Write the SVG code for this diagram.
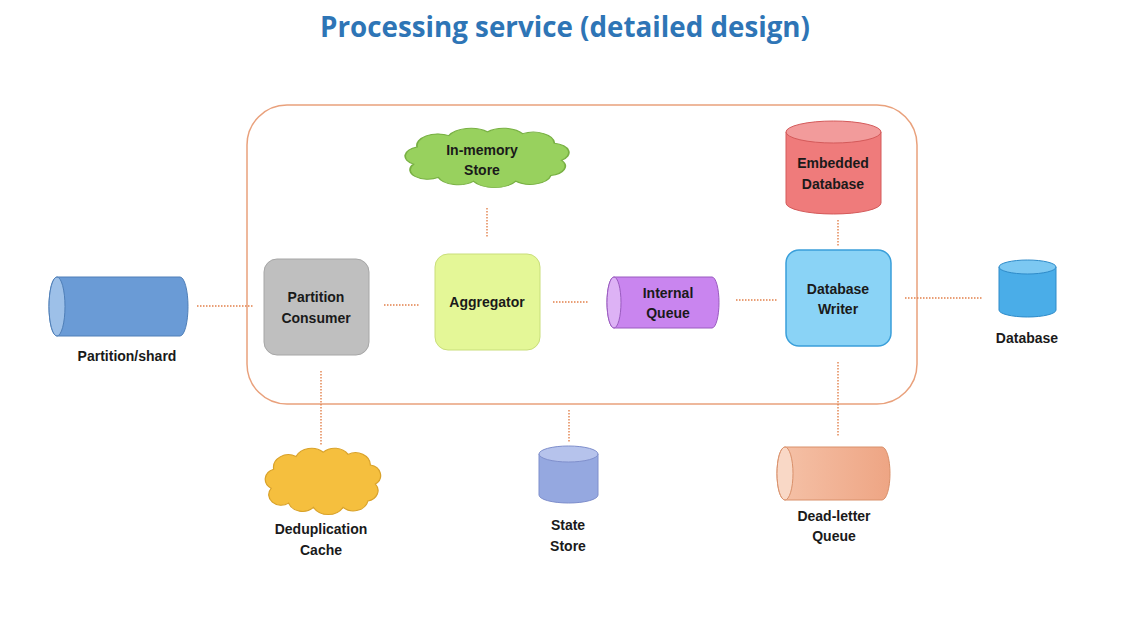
<svg xmlns="http://www.w3.org/2000/svg" width="1138" height="642" viewBox="0 0 1138 642">
<defs>
<style>
.t{font-family:"Liberation Sans","Open Sans",Arial,sans-serif;font-weight:bold;font-size:14px;fill:#1a1a1a;text-anchor:middle}
.title{font-family:"Open Sans","Liberation Sans",sans-serif;font-weight:bold;font-size:28px;fill:#2E75B6;text-anchor:middle}
.c{stroke:#E2804A;stroke-width:1.4;stroke-dasharray:1.5 1.5;fill:none}
</style>
<path id="cloud" d="M10,38 a10,10 0 0 1 2,-18 a12,12 0 0 1 18,-12 a14,14 0 0 1 22,-4 a13,13 0 0 1 20,2 a12,12 0 0 1 18,10 a10,10 0 0 1 4,18 a10,10 0 0 1 -6,16 a12,12 0 0 1 -20,6 a14,14 0 0 1 -24,0 a12,12 0 0 1 -20,-4 a10,10 0 0 1 -14,-14 z"/>
<linearGradient id="dlq" x1="0" y1="0" x2="1" y2="0">
<stop offset="0" stop-color="#F5C2A8"/><stop offset="1" stop-color="#EEA584"/>
</linearGradient>
</defs>
<rect width="1138" height="642" fill="#ffffff"/>
<text class="title" x="565" y="37" textLength="490" lengthAdjust="spacingAndGlyphs">Processing service (detailed design)</text>

<g id="container">
<rect x="247" y="105" width="670" height="299" rx="40" fill="none" stroke="#E9A17C" stroke-width="1.5"/>
</g>

<g id="connectors">
<line class="c" x1="197" y1="306" x2="253" y2="306"/>
<line class="c" x1="384" y1="305" x2="419" y2="305"/>
<line class="c" x1="553" y1="302" x2="588" y2="302"/>
<line class="c" x1="736" y1="300" x2="777" y2="300"/>
<line class="c" x1="905" y1="298" x2="983" y2="298"/>
<line class="c" x1="838" y1="220" x2="838" y2="247"/>
<line class="c" x1="487" y1="208" x2="487" y2="238"/>
<line class="c" x1="321" y1="371" x2="321" y2="445"/>
<line class="c" x1="569" y1="410" x2="569" y2="443"/>
<line class="c" x1="838" y1="362" x2="838" y2="437"/>
</g>

<g id="partition-shard">
<path d="M57,277 L180,277 A8,29.5 0 0 1 180,336 L57,336 A8,29.5 0 0 1 57,277 Z" fill="#6A9BD6" stroke="#4F7FB8" stroke-width="1"/>
<ellipse cx="57" cy="306.5" rx="8" ry="29.5" fill="#9DC0E8" stroke="#4F7FB8" stroke-width="1"/>
<text class="t" x="127" y="361">Partition/shard</text>
</g>

<g id="partition-consumer">
<rect x="264" y="259" width="105" height="96" rx="13" fill="#BFBFBF" stroke="#A6A6A6" stroke-width="1"/>
<text class="t" x="316" y="302">Partition</text>
<text class="t" x="316" y="323">Consumer</text>
</g>

<g id="aggregator">
<rect x="435" y="254" width="105" height="96" rx="13" fill="#E4F797" stroke="#C9DE7A" stroke-width="1"/>
<text class="t" x="487" y="307">Aggregator</text>
</g>

<g id="internal-queue">
<path d="M614,277 L712,277 A7,25.5 0 0 1 712,328 L614,328 A7,25.5 0 0 1 614,277 Z" fill="#C985EF" stroke="#9A5BC0" stroke-width="1"/>
<ellipse cx="614" cy="302.5" rx="7" ry="25.5" fill="#DDB2F5" stroke="#9A5BC0" stroke-width="1"/>
<text class="t" x="668" y="298">Internal</text>
<text class="t" x="668" y="318">Queue</text>
</g>

<g id="database-writer">
<rect x="786" y="250" width="105" height="96" rx="13" fill="#8AD3F6" stroke="#3A9FDA" stroke-width="1.5"/>
<text class="t" x="838" y="294">Database</text>
<text class="t" x="838" y="314">Writer</text>
</g>

<g id="database">
<path d="M999,267 L999,310 A28.5,7 0 0 0 1056,310 L1056,267 Z" fill="#4AADE8" stroke="#2E8BC9" stroke-width="1"/>
<ellipse cx="1027.5" cy="267" rx="28.5" ry="7" fill="#7CC8F2" stroke="#2E8BC9" stroke-width="1"/>
<text class="t" x="1027" y="343">Database</text>
</g>

<g id="embedded-database">
<path d="M786,132 L786,203 A47.5,11 0 0 0 881,203 L881,132 Z" fill="#EF7B7B" stroke="#D45A5A" stroke-width="1"/>
<ellipse cx="833.5" cy="132" rx="47.5" ry="11" fill="#F29B9B" stroke="#D45A5A" stroke-width="1"/>
<text class="t" x="833" y="168">Embedded</text>
<text class="t" x="833" y="189">Database</text>
</g>

<g id="in-memory-store">
<use href="#cloud" transform="translate(396,128) scale(1.76,0.95)" fill="#98D15E" stroke="#78B043" stroke-width="1" vector-effect="non-scaling-stroke"/>
<text class="t" x="482" y="155">In-memory</text>
<text class="t" x="482" y="175">Store</text>
</g>

<g id="deduplication-cache">
<use href="#cloud" transform="translate(258.8,448) scale(1.24,1.06)" fill="#F5BF3E" stroke="#D9A22A" stroke-width="1" vector-effect="non-scaling-stroke"/>
<text class="t" x="321" y="534">Deduplication</text>
<text class="t" x="321" y="555">Cache</text>
</g>

<g id="state-store">
<path d="M539,454 L539,495 A29.5,8 0 0 0 598,495 L598,454 Z" fill="#95A8E0" stroke="#7F8FCC" stroke-width="1"/>
<ellipse cx="568.5" cy="454" rx="29.5" ry="8" fill="#B6C3EC" stroke="#7F8FCC" stroke-width="1"/>
<text class="t" x="568" y="530">State</text>
<text class="t" x="568" y="551">Store</text>
</g>

<g id="dead-letter-queue">
<path d="M785,447 L882,447 A8,26.5 0 0 1 882,500 L785,500 A8,26.5 0 0 1 785,447 Z" fill="url(#dlq)" stroke="#D9906A" stroke-width="1"/>
<ellipse cx="785" cy="473.5" rx="8" ry="26.5" fill="#F9D8C6" stroke="#D9906A" stroke-width="1"/>
<text class="t" x="834" y="521">Dead-letter</text>
<text class="t" x="834" y="541">Queue</text>
</g>
</svg>
